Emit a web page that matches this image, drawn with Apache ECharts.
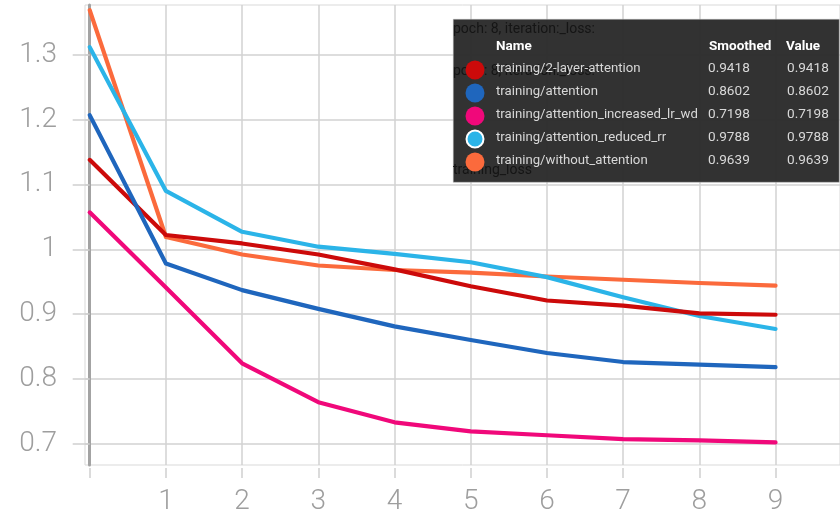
<!DOCTYPE html>
<html>
<head>
<meta charset="utf-8">
<script src="https://cdn.jsdelivr.net/npm/echarts@6/dist/echarts.min.js"></script>
<style>
html,body{margin:0;padding:0;background:#fff;}
#chart{width:840px;height:520px;}
</style>
</head>
<body>
<div id="chart"></div>
<script>
// ---- data ----
var epochs = [0, 1, 2, 3, 4, 5, 6, 7, 8, 9];
var xTickLabels = [1, 2, 3, 4, 5, 6, 7, 8, 9];
var xGridValues = [0, 1, 2, 3, 4, 5, 6, 7, 8, 9];
var yTickValues = [0.7, 0.8, 0.9, 1.0, 1.1, 1.2, 1.3];

var twoLayerAttention   = [1.138, 1.022, 1.009, 0.992, 0.969, 0.943, 0.921, 0.913, 0.901, 0.899];
var attention           = [1.207, 0.978, 0.937, 0.908, 0.881, 0.860, 0.840, 0.826, 0.822, 0.818];
var attentionIncreased  = [1.057, 0.941, 0.824, 0.764, 0.733, 0.719, 0.713, 0.707, 0.705, 0.702];
var attentionReducedRR  = [1.312, 1.090, 1.027, 1.004, 0.993, 0.980, 0.957, 0.926, 0.897, 0.877];
var withoutAttention    = [1.369, 1.019, 0.992, 0.975, 0.968, 0.964, 0.958, 0.953, 0.948, 0.944];

var seriesNames = ['training/2-layer-attention', 'training/attention', 'training/attention_increased_lr_wd', 'training/attention_reduced_rr', 'training/without_attention'];
var tooltipSmoothed = ['0.9418', '0.8602', '0.7198', '0.9788', '0.9639'];
var tooltipValue    = ['0.9418', '0.8602', '0.7198', '0.9788', '0.9639'];
var tooltipTitle = 'poch: 8, iteration:_loss:';
var ghostTexts = ['poch: 8, iteration:_loss:', 'training_loss'];

// ---- styles ----
var colors = ['#cc0a0a', '#1f66bd', '#f0087a', '#2bb4e8', '#fb6a3c'];
var seriesData = [twoLayerAttention, attention, attentionIncreased, attentionReducedRR, withoutAttention];
var zOrder = [4, 5, 6, 3, 2];

function pairs(arr) { return epochs.map(function (e, i) { return [e, arr[i]]; }); }

var series = seriesData.map(function (d, i) {
  return {
    name: seriesNames[i],
    type: 'line',
    data: pairs(d),
    showSymbol: false,
    symbol: 'none',
    z: zOrder[i],
    lineStyle: { color: colors[i], width: 4.2, join: 'round', cap: 'round' },
    itemStyle: { color: colors[i] },
    animation: false
  };
});

// ---- tooltip-like panel (graphic) ----
var gx = 453, gy = 19;
var graphics = [];
graphics.push({ type: 'rect', left: gx, top: gy, z: 100,
  shape: { width: 386, height: 163 },
  style: { fill: 'rgba(43,43,43,0.97)', stroke: '#bdbdbd', lineWidth: 0.5 } });
graphics.push({ type: 'text', left: gx, top: gy + 3, z: 101,
  style: { text: tooltipTitle, fill: '#151515', font: '14px Roboto' } });
graphics.push({ type: 'text', left: gx, top: 64, z: 101,
  style: { text: ghostTexts[0], fill: '#151515', font: '14px Roboto' } });
graphics.push({ type: 'text', left: gx, top: 163, z: 101,
  style: { text: ghostTexts[1], fill: '#151515', font: '14px Roboto' } });
graphics.push({ type: 'text', left: 496, top: 40, z: 102,
  style: { text: 'Name', fill: '#ffffff', font: 'bold 13.5px Roboto' } });
graphics.push({ type: 'text', left: 709, top: 40, z: 102,
  style: { text: 'Smoothed', fill: '#ffffff', font: 'bold 13.5px Roboto' } });
graphics.push({ type: 'text', left: 786, top: 40, z: 102,
  style: { text: 'Value', fill: '#ffffff', font: 'bold 13.5px Roboto' } });
var rowY = [70, 93, 116, 139, 162];
seriesNames.forEach(function (n, i) {
  graphics.push({ type: 'circle', z: 102,
    shape: { cx: 475, cy: rowY[i], r: i === 3 ? 8.5 : 9.5 },
    style: { fill: colors[i], stroke: i === 3 ? '#ffffff' : null, lineWidth: i === 3 ? 2 : 0 } });
  graphics.push({ type: 'text', left: 496, top: rowY[i] - 8, z: 102,
    style: { text: n, fill: '#d8d8d8', font: '13.2px Roboto' } });
  graphics.push({ type: 'text', left: 708, top: rowY[i] - 8, z: 102,
    style: { text: tooltipSmoothed[i], fill: '#d8d8d8', font: '13.6px Roboto' } });
  graphics.push({ type: 'text', left: 787, top: rowY[i] - 8, z: 102,
    style: { text: tooltipValue[i], fill: '#d8d8d8', font: '13.6px Roboto' } });
});

var chart = echarts.init(document.getElementById('chart'), null, { renderer: 'canvas' });
chart.setOption({
  animation: false,
  backgroundColor: '#ffffff',
  grid: {
    left: 85, top: 5, right: 0, bottom: 55,
    show: true, borderColor: '#d9d9d9', borderWidth: 1, backgroundColor: 'transparent'
  },
  xAxis: {
    type: 'value',
    min: -0.0617,
    max: 9.846,
    offset: 3,
    axisLine: { show: false, onZero: false },
    axisTick: { show: true, length: 10, lineStyle: { color: '#cfcfcf', width: 1.5 }, customValues: xGridValues },
    axisLabel: {
      customValues: xTickLabels,
      margin: 20,
      color: '#9e9e9e',
      fontFamily: 'Roboto',
      fontWeight: 300,
      fontSize: 28,
      formatter: function (v) { return String(v); }
    },
    splitLine: { show: true, lineStyle: { color: '#d2d2d2', width: 1.5 } }
  },
  yAxis: {
    type: 'value',
    min: 0.6671,
    max: 1.377,
    axisLine: { show: true, onZero: true, lineStyle: { color: '#a3a3a3', width: 3 } },
    axisTick: { show: true, length: 17, lineStyle: { color: '#cfcfcf', width: 1.5 }, customValues: yTickValues },
    axisLabel: {
      customValues: yTickValues,
      margin: 28,
      color: '#9e9e9e',
      fontFamily: 'Roboto',
      fontWeight: 300,
      fontSize: 28,
      formatter: function (v) { return String(parseFloat(v.toFixed(1))); }
    },
    splitLine: { show: true, lineStyle: { color: '#d2d2d2', width: 1.5 } }
  },
  series: series,
  graphic: graphics
});
</script>
</body>
</html>
